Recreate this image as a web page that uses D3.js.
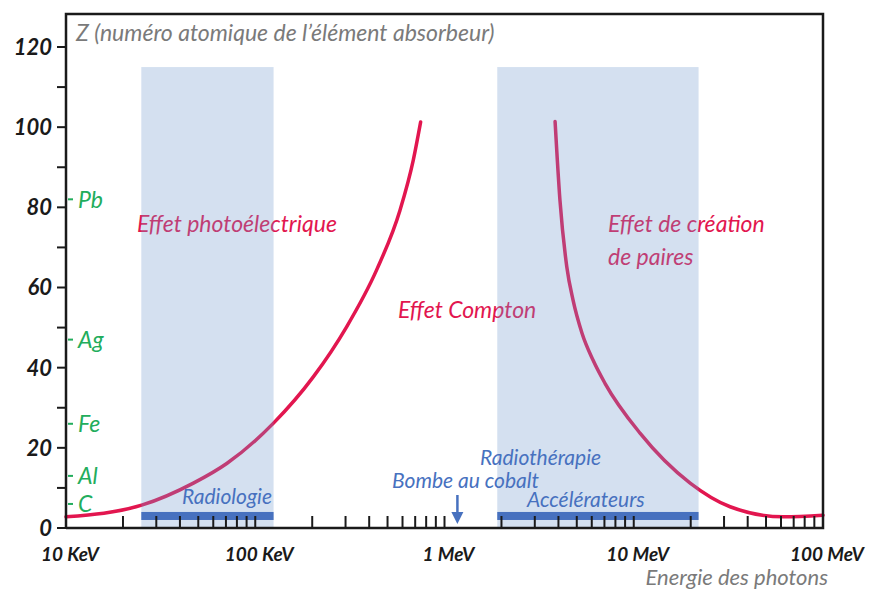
<!DOCTYPE html>
<html>
<head>
<meta charset="utf-8">
<script src="https://cdn.jsdelivr.net/npm/d3@7"></script>
<style>
  body { margin: 0; background: #fff; }
  text { font-family: Lato, "Open Sans", sans-serif; font-style: italic; }
</style>
</head>
<body>
<div id="chart"></div>
<script>
// Energies en keV, Z numéro atomique
const decadeTicks = [10, 100, 1000, 10000, 100000];
const decadeLabels = ["10 KeV", "100 KeV", "1 MeV", "10 MeV", "100 MeV"];
const zMajor = [0, 20, 40, 60, 80, 100, 120];
const zMinor = [10, 30, 50, 70, 90, 110];

const elementNames = ["Pb", "Ag", "Fe", "Al", "C"];
const elementZ = [82, 47, 26, 13, 6];

// frontière photoélectrique / Compton
const photoE = [10, 25.1, 47.1, 70.7, 124.5, 202.6, 304, 438, 582, 684, 748];
const photoZ = [2.8, 5.7, 11.2, 16.1, 26.1, 37.7, 50.2, 64.4, 79.3, 91.8, 101.3];

// frontière Compton / création de paires
const pairE = [3840, 4074, 4427, 4775, 5329, 6091, 7047, 10820, 19860, 32300, 61800, 100000];
const pairZ = [101.4, 81.8, 65.2, 56.9, 48.6, 41.9, 36.1, 23.6, 11.2, 5.3, 2.8, 3.2];

// zones d'utilisation (keV)
const bandNames = ["Radiologie", "Accélérateurs"];
const bandStart = [25, 1900];
const bandEnd = [125, 22000];
const bandTop = 115;
const barZ = [2, 4];
const cobaltE = 1170;

const width = 881, height = 591;
const margin = { top: 14, left: 66, right: 58, bottom: 63 };
const red = "#e2164f", blue = "#4771bf", green = "#22ad5c", gray = "#7a7a7a";

const svg = d3.select("#chart").append("svg")
    .attr("width", width)
    .attr("height", height);

const x = d3.scaleLog()
    .domain([10, 100000])
    .range([margin.left, width - margin.right]);

const y = d3.scaleLinear()
    .domain([0, 120])
    .range([height - margin.bottom, 47]);

const x0 = margin.left, x1 = width - margin.right;
const yb = height - margin.bottom;

// Courbes
const line = d3.line()
    .x(d => x(d[0]))
    .y(d => y(d[1]))
    .curve(d3.curveMonotoneX);

svg.append("path")
    .attr("d", line(photoE.map((e, i) => [e, photoZ[i]])))
    .attr("fill", "none")
    .attr("stroke", red)
    .attr("stroke-width", 3.5)
    .attr("stroke-linecap", "round");

svg.append("path")
    .attr("d", line(pairE.map((e, i) => [e, pairZ[i]])))
    .attr("fill", "none")
    .attr("stroke", red)
    .attr("stroke-width", 3.5)
    .attr("stroke-linecap", "round");

// Textes des effets
const effet = svg.append("g")
    .attr("fill", red)
    .attr("font-size", 23);
effet.append("text").attr("x", 137).attr("y", 232).text("Effet photoélectrique");
effet.append("text").attr("x", 398).attr("y", 318).text("Effet Compton");
effet.append("text").attr("x", 608).attr("y", 232).text("Effet de création");
effet.append("text").attr("x", 608).attr("y", 265).text("de paires");

// Zones bleues (transparentes)
svg.selectAll("rect.band")
    .data(bandStart)
    .enter().append("rect")
    .attr("class", "band")
    .attr("x", d => x(d))
    .attr("y", y(bandTop))
    .attr("width", (d, i) => x(bandEnd[i]) - x(d))
    .attr("height", y(0) - y(bandTop))
    .attr("fill", "#7098cd")
    .attr("fill-opacity", 0.3);

svg.selectAll("rect.bar")
    .data(bandStart)
    .enter().append("rect")
    .attr("class", "bar")
    .attr("x", d => x(d))
    .attr("y", y(barZ[1]))
    .attr("width", (d, i) => x(bandEnd[i]) - x(d))
    .attr("height", y(barZ[0]) - y(barZ[1]))
    .attr("fill", blue);

// Textes bleus
const app = svg.append("g")
    .attr("fill", blue)
    .attr("font-size", 21);
app.append("text").attr("x", 182).attr("y", 504).text(bandNames[0]);
app.append("text").attr("x", 527).attr("y", 507).text(bandNames[1]);
app.append("text").attr("x", 480).attr("y", 465).text("Radiothérapie");
app.append("text").attr("x", 392).attr("y", 488).text("Bombe au cobalt");

// flèche bombe au cobalt
const cx = x(cobaltE);
svg.append("line")
    .attr("x1", cx).attr("x2", cx)
    .attr("y1", 495).attr("y2", 518)
    .attr("stroke", blue).attr("stroke-width", 2.5);
svg.append("path")
    .attr("d", `M${cx - 6},${512} L${cx + 6},${512} L${cx},${524} Z`)
    .attr("fill", blue);

// Axe des x : graduations log
const minorE = [];
decadeTicks.slice(0, -1).forEach(d => {
    for (let k = 2; k <= 10; k++) minorE.push(d * k);
});
svg.selectAll("line.xtick")
    .data(minorE)
    .enter().append("line")
    .attr("class", "xtick")
    .attr("x1", d => x(d)).attr("x2", d => x(d))
    .attr("y1", yb).attr("y2", yb - 12)
    .attr("stroke", "#1a1a1a")
    .attr("stroke-width", 2);

svg.selectAll("text.xlab")
    .data(decadeTicks)
    .enter().append("text")
    .attr("class", "xlab")
    .attr("x", d => x(d) + 4)
    .attr("y", 561)
    .attr("text-anchor", "middle")
    .attr("font-size", 19)
    .attr("font-weight", "bold")
    .attr("fill", "#1a1a1a")
    .text((d, i) => decadeLabels[i]);

// Axe des y
svg.selectAll("line.ytick")
    .data(zMajor.concat(zMinor))
    .enter().append("line")
    .attr("class", "ytick")
    .attr("x1", x0 - 9).attr("x2", x0)
    .attr("y1", d => y(d)).attr("y2", d => y(d))
    .attr("stroke", "#1a1a1a")
    .attr("stroke-width", 2);

svg.selectAll("text.ylab")
    .data(zMajor)
    .enter().append("text")
    .attr("class", "ylab")
    .attr("x", 52)
    .attr("y", d => y(d))
    .attr("dy", "0.36em")
    .attr("text-anchor", "end")
    .attr("font-size", 22)
    .attr("font-weight", "bold")
    .attr("fill", "#1a1a1a")
    .text(d => d);

// Éléments
const elt = svg.selectAll("g.elt")
    .data(elementZ)
    .enter().append("g")
    .attr("class", "elt")
    .attr("transform", d => `translate(0,${y(d)})`);
elt.append("line")
    .attr("x1", x0 + 2).attr("x2", x0 + 7)
    .attr("stroke", green).attr("stroke-width", 2);
elt.append("text")
    .attr("x", x0 + 12)
    .attr("dy", "0.36em")
    .attr("font-size", 23)
    .attr("fill", green)
    .text((d, i) => elementNames[i]);

// Cadre
svg.append("path")
    .attr("d", `M${x0},${yb} V${margin.top} H${x1} V${yb} H${x0}`)
    .attr("fill", "none")
    .attr("stroke", "#1a1a1a")
    .attr("stroke-width", 2.5);

// Titres des axes
svg.append("text")
    .attr("x", 76).attr("y", 41)
    .attr("font-size", 23)
    .attr("fill", gray)
    .text("Z (numéro atomique de l’élément absorbeur)");

svg.append("text")
    .attr("x", 828).attr("y", 585)
    .attr("text-anchor", "end")
    .attr("font-size", 22)
    .attr("fill", gray)
    .text("Energie des photons");
</script>
</body>
</html>
